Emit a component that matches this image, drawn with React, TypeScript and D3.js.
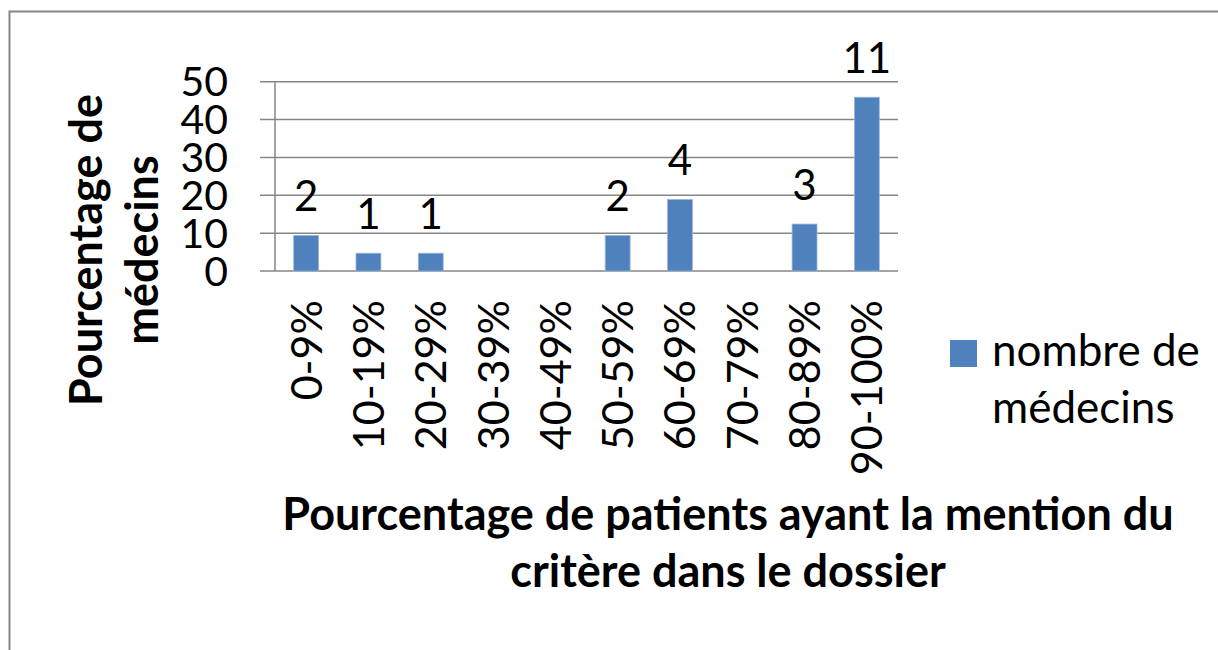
import { useEffect, useRef } from "react";
import * as d3 from "d3";

const categories = [
  "0-9%",
  "10-19%",
  "20-29%",
  "30-39%",
  "40-49%",
  "50-59%",
  "60-69%",
  "70-79%",
  "80-89%",
  "90-100%",
];
// bar heights, % of physicians
const percentages = [9.4, 4.7, 4.7, 0, 0, 9.4, 18.9, 0, 12.4, 45.9];
// data labels, number of physicians (empty bins have none)
const counts = [2, 1, 1, null, null, 2, 4, null, 3, 11];
const yTicks = [0, 10, 20, 30, 40, 50];

const seriesName = ["nombre de", "médecins"];
const yTitle = ["Pourcentage de", "médecins"];
const xTitle = ["Pourcentage de patients ayant la mention du", "critère dans le dossier"];

const W = 1218;
const H = 650;
const FONT = "Lato, 'Open Sans', sans-serif";
const BAR = "#4F81BD";
const GRID = "#868686";

export default function App() {
  const svgRef = useRef<SVGSVGElement>(null);

  useEffect(() => {
    if (!svgRef.current) return;
    const svg = d3.select(svgRef.current);
    svg.selectAll("*").remove();

    const plot = { left: 275, right: 898, top: 81.7, bottom: 271 };

    const x = d3
      .scaleBand<string>()
      .domain(categories)
      .range([plot.left, plot.right])
      .paddingInner(0.6)
      .paddingOuter(0.3);

    const y = d3.scaleLinear().domain([0, 50]).range([plot.bottom, plot.top]);

    // outer chart border (right and bottom edges fall outside the picture)
    svg
      .append("rect")
      .attr("x", 9.5)
      .attr("y", 11.5)
      .attr("width", W + 20)
      .attr("height", H + 20)
      .attr("fill", "#fff")
      .attr("stroke", GRID)
      .attr("stroke-width", 2);

    // gridlines, with outside tick marks
    svg
      .append("g")
      .selectAll("line")
      .data(yTicks)
      .join("line")
      .attr("x1", plot.left - 15)
      .attr("x2", plot.right)
      .attr("y1", (d) => y(d))
      .attr("y2", (d) => y(d))
      .attr("stroke", GRID)
      .attr("stroke-width", 1.5);

    // y axis line
    svg
      .append("line")
      .attr("x1", plot.left)
      .attr("x2", plot.left)
      .attr("y1", y(50))
      .attr("y2", y(0))
      .attr("stroke", GRID)
      .attr("stroke-width", 1.5);

    // y tick labels
    svg
      .append("g")
      .selectAll("text")
      .data(yTicks)
      .join("text")
      .attr("x", 228)
      .attr("y", (d) => y(d))
      .attr("dy", "0.36em")
      .attr("text-anchor", "end")
      .attr("font-family", FONT)
      .attr("font-size", 41)
      .attr("fill", "#000")
      .text((d) => d);

    // bars
    svg
      .append("g")
      .selectAll("rect")
      .data(percentages)
      .join("rect")
      .attr("x", (_, i) => x(categories[i])!)
      .attr("y", (d) => y(d))
      .attr("width", x.bandwidth())
      .attr("height", (d) => y(0) - y(d))
      .attr("fill", BAR)
      .attr("stroke", "#9BB7DA")
      .attr("stroke-width", (d) => (d > 0 ? 0.8 : 0));

    // data labels
    svg
      .append("g")
      .selectAll("text")
      .data(counts)
      .join("text")
      .attr("x", (_, i) => x(categories[i])! + x.bandwidth() / 2)
      .attr("y", (_, i) => y(percentages[i]) - 24)
      .attr("text-anchor", "middle")
      .attr("font-family", FONT)
      .attr("font-size", 42)
      .attr("fill", "#000")
      .text((d) => (d == null ? "" : d));

    // category labels, rotated
    svg
      .append("g")
      .selectAll("text")
      .data(categories)
      .join("text")
      .attr(
        "transform",
        (d) => `translate(${x(d)! + x.bandwidth() / 2},300) rotate(-90)`
      )
      .attr("dy", "0.36em")
      .attr("text-anchor", "end")
      .attr("font-family", FONT)
      .attr("font-size", 43)
      .attr("fill", "#000")
      .text((d) => d);

    // legend
    const legend = svg.append("g");
    legend
      .append("rect")
      .attr("x", 950)
      .attr("y", 340)
      .attr("width", 27)
      .attr("height", 27)
      .attr("fill", BAR);
    legend
      .selectAll("text")
      .data(seriesName)
      .join("text")
      .attr("x", 992)
      .attr("y", (_, i) => 366 + i * 57)
      .attr("font-family", FONT)
      .attr("font-size", 44)
      .attr("fill", "#000")
      .text((d) => d);

    // x axis title
    svg
      .append("g")
      .selectAll("text")
      .data(xTitle)
      .join("text")
      .attr("x", 728)
      .attr("y", (_, i) => 530 + i * 57)
      .attr("text-anchor", "middle")
      .attr("font-family", FONT)
      .attr("font-weight", "bold")
      .attr("font-size", 45)
      .attr("fill", "#000")
      .text((d) => d);

    // y axis title, rotated
    svg
      .append("g")
      .selectAll("text")
      .data(yTitle)
      .join("text")
      .attr("transform", (_, i) => `translate(${102 + i * 56},250) rotate(-90)`)
      .attr("text-anchor", "middle")
      .attr("font-family", FONT)
      .attr("font-weight", "bold")
      .attr("font-size", 45)
      .attr("fill", "#000")
      .text((d) => d);
  }, []);

  return (
    <svg
      ref={svgRef}
      width={W}
      height={H}
      style={{ position: "absolute", left: 0, top: 0, display: "block", background: "#fff" }}
    />
  );
}
